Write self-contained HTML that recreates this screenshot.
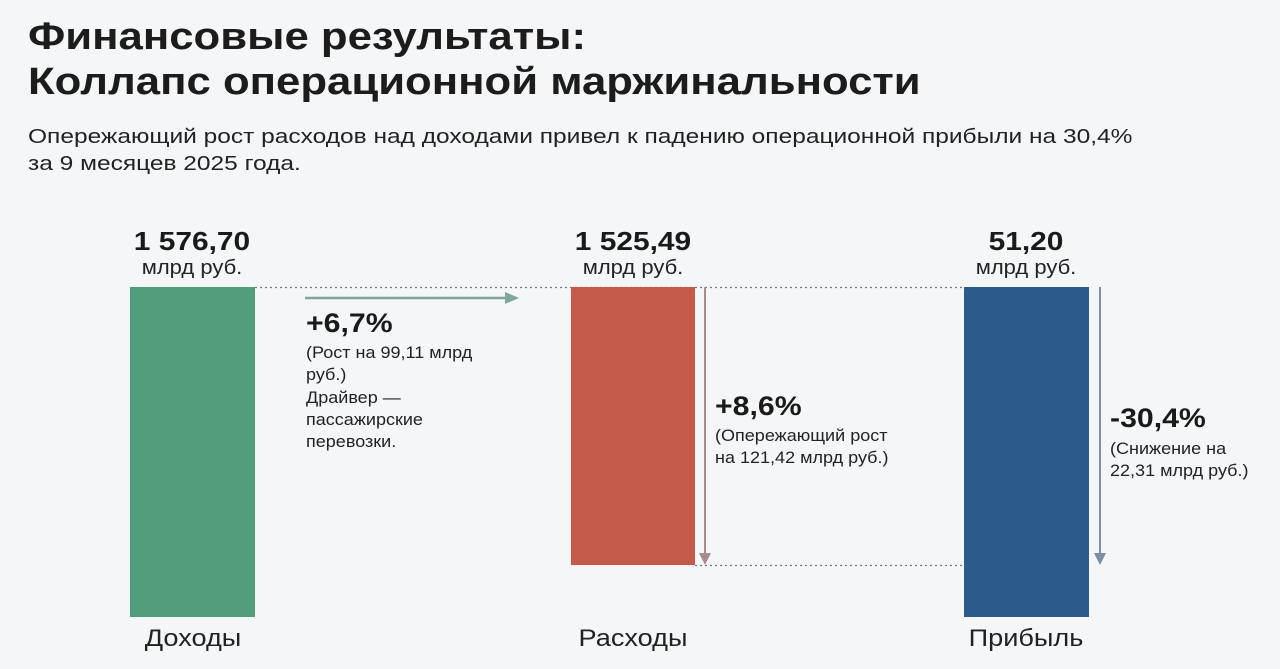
<!DOCTYPE html>
<html><head><meta charset="utf-8"><style>
body{margin:0;width:1280px;height:669px;background:#f4f6f8;font-family:"Liberation Sans",sans-serif;color:#1a1a1a;position:relative;overflow:hidden}
.a{position:absolute;white-space:nowrap}
h1{position:absolute;left:28px;top:15px;margin:0;font-size:38px;line-height:45px;font-weight:bold;color:#1c1c1c;transform:scaleX(1.15);transform-origin:left;white-space:nowrap}
.sub{left:28px;top:124px;font-size:20px;line-height:27px;color:#222;transform:scaleX(1.225);transform-origin:left}
.v{font-size:26px;font-weight:bold;text-align:center;width:200px;line-height:28px;transform:scaleX(1.15)}
.u{font-size:20px;text-align:center;width:200px;line-height:22px;color:#222;transform:scaleX(1.1)}
.c{font-size:24px;text-align:center;width:200px;color:#222;transform:scaleX(1.13)}
.p{font-size:27px;font-weight:bold;transform:scaleX(1.12);transform-origin:left}
.s{font-size:17px;line-height:22px;color:#222;transform:scaleX(1.06);transform-origin:left}
</style></head><body>
<h1>Финансовые результаты:<br>Коллапс операционной маржинальности</h1>
<div class="a sub">Опережающий рост расходов над доходами привел к падению операционной прибыли на 30,4%<br>за 9 месяцев 2025 года.</div>
<svg class="a" style="left:0;top:0" width="1280" height="669">
<line x1="255" y1="287.5" x2="964" y2="287.5" stroke="#6a7a88" stroke-dasharray="2,3" stroke-width="1.3"/>
<line x1="695" y1="565.5" x2="964" y2="565.5" stroke="#6a7a88" stroke-dasharray="2,3" stroke-width="1.3"/>
<rect x="130" y="287" width="125" height="330" fill="#529d7b"/>
<rect x="571" y="287" width="124" height="278" fill="#c45a4a"/>
<rect x="964" y="287" width="125" height="330" fill="#2c5a8b"/>
<line x1="305" y1="298" x2="508" y2="298" stroke="#7fa89a" stroke-width="2.5"/>
<polygon points="505,292 519,298 505,304" fill="#7fa89a"/>
<line x1="705" y1="287" x2="705" y2="555" stroke="#a88c8c" stroke-width="2"/>
<polygon points="699,553 711,553 705,565" fill="#a88c8c"/>
<line x1="1100" y1="287" x2="1100" y2="555" stroke="#7c8fa4" stroke-width="2"/>
<polygon points="1094,553 1106,553 1100,565" fill="#7c8fa4"/>
</svg>
<div class="a v" style="left:92px;top:227px">1 576,70</div><div class="a u" style="left:92px;top:257px">млрд руб.</div>
<div class="a v" style="left:533px;top:227px">1 525,49</div><div class="a u" style="left:533px;top:257px">млрд руб.</div>
<div class="a v" style="left:926px;top:227px">51,20</div><div class="a u" style="left:926px;top:257px">млрд руб.</div>
<div class="a p" style="left:306px;top:308px">+6,7%</div>
<div class="a s" style="left:306px;top:342px">(Рост на 99,11 млрд<br>руб.)</div>
<div class="a s" style="left:306px;top:387px">Драйвер —<br>пассажирские<br>перевозки.</div>
<div class="a p" style="left:715px;top:391px">+8,6%</div>
<div class="a s" style="left:715px;top:425px">(Опережающий рост<br>на 121,42 млрд руб.)</div>
<div class="a p" style="left:1110px;top:403px">-30,4%</div>
<div class="a s" style="left:1110px;top:438px">(Снижение на<br>22,31 млрд руб.)</div>
<div class="a c" style="left:93px;top:625px">Доходы</div>
<div class="a c" style="left:533px;top:625px">Расходы</div>
<div class="a c" style="left:926px;top:625px">Прибыль</div>
</body></html>
